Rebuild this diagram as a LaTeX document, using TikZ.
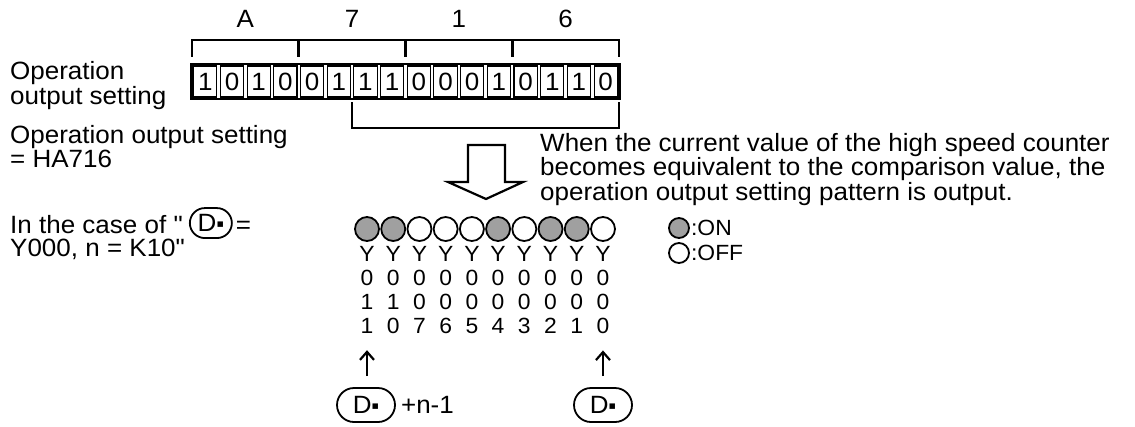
\documentclass[tikz,border=0pt]{standalone}
\usepackage{fontspec}
\newfontfamily\lsans{Liberation Sans}[FakeStretch=1.04]
\newfontfamily\dejavu{DejaVu Sans}
\usetikzlibrary{arrows.meta,shapes.misc,fit}
\definecolor{ongray}{RGB}{160,160,160}
\newcommand\dsq{{\dejavu\fontsize{11}{11}\selectfont\raisebox{4.5pt}{▪}}}
\begin{document}
\begin{tikzpicture}[x=1pt,y=-1pt,
  txt/.style={anchor=base west,inner sep=0pt,font=\lsans\fontsize{25}{21.5}\selectfont},
  block/.style={anchor=base west,inner sep=0pt,align=left,font=\lsans\fontsize{25}{21.5}\selectfont},
  hexlab/.style={anchor=base,inner sep=0pt,font=\lsans\fontsize{25}{25}\selectfont},
  bitcell/.style={draw,line width=1.1pt,minimum width=23.2pt,minimum height=31pt,inner sep=0pt,font=\lsans\fontsize{25}{25}\selectfont},
  frame/.style={draw,line width=2.6pt,inner sep=1.6pt},
  brk/.style={line width=2.6pt,line cap=rect},
  lamp/.style={circle,draw,line width=1.8pt,minimum size=24pt,inner sep=0pt},
  leg/.style={circle,draw,line width=1.8pt,minimum size=20pt,inner sep=0pt},
  ylab/.style={anchor=base,inner sep=0pt,font=\lsans\fontsize{22}{22}\selectfont},
  dshape/.style={rounded rectangle,draw,line width=1.8pt,inner sep=0pt,font=\lsans\fontsize{25}{25}\selectfont},
  uparr/.style={line width=2.2pt,-{Straight Barb[length=8pt,width=14pt,line width=2.2pt]}},
  bigarrow/.style={line width=2.2pt,line join=miter}
]
\useasboundingbox (0,0) rectangle (1135,426);

% hex labels
\node[hexlab] (hA) at (245.4,27) {A};
\node[hexlab] (h7) at (352.1,27) {7};
\node[hexlab] (h1) at (458.8,27) {1};
\node[hexlab] (h6) at (565.5,27) {6};

% bit cells
\foreach \b [count=\i from 0] in {1,0,1,0,0,1,1,1,0,0,0,1,0,1,1,0}
  \node[bitcell] (b\i) at ({192+(\i+0.5)*26.6875},81.5) {\b};
\node[frame,fit=(b0)(b15)] (fr) {};

% top bracket
\draw[brk] (192,56) -- (192,40) -- (619,40) -- (619,56);
\draw[brk] (298.75,40) -- (298.75,56);
\draw[brk] (405.5,40) -- (405.5,56);
\draw[brk] (512.25,40) -- (512.25,56);

% bottom bracket
\draw[brk] (352.1,103) -- (352.1,128) -- (619,128) -- (619,103);

% left labels (base = last line)
\node[block] (op) at (10,104) {Operation\\output setting};
\node[block] (os) at (10,167) {Operation output setting\\= HA716};

% hollow arrow
\draw[bigarrow] (468,145) -- (505,145) -- (505,182) -- (523,182) -- (486,199) -- (448,182) -- (468,182) -- cycle;

% right description
\node[block] (wt) at (540,200) {When the current value of the high speed counter\\becomes equivalent to the comparison value, the\\operation output setting pattern is output.};

% lamps
\foreach \c [count=\i from 0] in {ongray,ongray,white,white,white,ongray,white,ongray,ongray,white}
  \node[lamp,fill=\c] (c\i) at ({367+\i*26.22},229) {};

% device numbers
\foreach \a/\b [count=\i from 0] in {1/1,1/0,0/7,0/6,0/5,0/4,0/3,0/2,0/1,0/0}{
  \node[ylab] (y\i) at ({367+\i*26.22},261) {Y};
  \node[ylab] (z\i) at ({367+\i*26.22},285) {0};
  \node[ylab] (p\i) at ({367+\i*26.22},309) {\a};
  \node[ylab] (q\i) at ({367+\i*26.22},333) {\b};
}

% legend
\node[leg,fill=ongray] (lon) at (679,228) {};
\node[txt,anchor=west,font=\lsans\fontsize{22}{22}\selectfont] (ton) at ([xshift=1pt]lon.east) {:ON};
\node[leg,fill=white] (loff) at (679,253) {};
\node[txt,anchor=west,font=\lsans\fontsize{22}{22}\selectfont] (toff) at ([xshift=1pt]loff.east) {:OFF};

% case text
\node[txt] (k1) at (10,233) {In the case of "};
\node[dshape,minimum width=42pt,minimum height=30pt,anchor=west] (du) at ([xshift=6pt,yshift=1pt]k1.east) {D\dsq};
\node[txt] (k2) at ([xshift=3pt]du.east |- k1.base) {=};
\node[txt] (k3) at (10,256) {Y000, n = K10"};

% bottom D boxes
\node[dshape,minimum width=58pt,minimum height=34pt] (dl) at (366,405) {D\dsq};
\node[txt,anchor=west] (nm) at ([xshift=5pt]dl.east) {+n-1};
\node[dshape,minimum width=58pt,minimum height=34pt] (dr) at (603,405) {D\dsq};

\draw[uparr] ([yshift=11pt]q0.south |- dl.north) -- ([yshift=-17pt]q0.south);
\draw[uparr] ([yshift=11pt]q9.south |- dr.north) -- ([yshift=-17pt]q9.south);
\end{tikzpicture}
\end{document}
